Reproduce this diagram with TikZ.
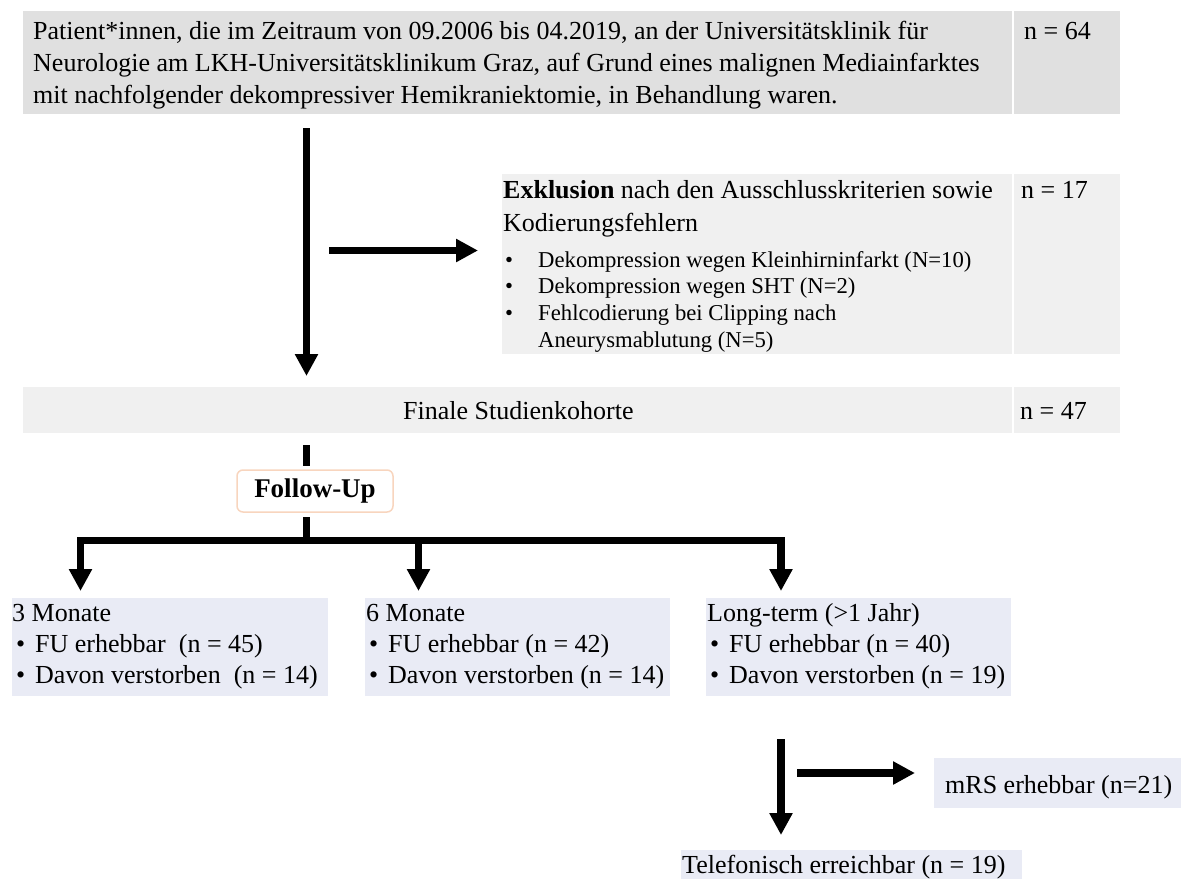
\documentclass[tikz,border=0pt]{standalone}
\usepackage{fontspec}
\setmainfont{Liberation Serif}
\usetikzlibrary{arrows.meta}
\definecolor{boxgray}{HTML}{E0E0E0}
\definecolor{boxlight}{HTML}{F0F0F0}
\definecolor{boxlav}{HTML}{E9EBF5}
\definecolor{peach}{HTML}{F8D5BE}
\begin{document}
\begin{tikzpicture}[x=1pt,y=-1pt,
  cell/.style={draw=none, inner sep=0pt, outer sep=0pt, anchor=north west},
  txt/.style={inner sep=0pt, anchor=base west, font=\fontsize{26}{31}\selectfont},
  smalltxt/.style={inner sep=0pt, anchor=base west, font=\fontsize{22.7}{27}\selectfont},
  bigarrow/.style={line width=7.5pt, -{Triangle[width=22pt,length=22pt]}},
  barline/.style={line width=7.5pt}
]
\useasboundingbox (0,0) rectangle (1181,879);
% ---- boxes
\node[cell, fill=boxgray, minimum width=989pt, minimum height=103pt] (top) at (23,11) {};
\node[cell, fill=boxgray, minimum width=106pt, minimum height=103pt] (topn) at (1014,11) {};
\node[cell, fill=boxlight, minimum width=510pt, minimum height=180pt] (excl) at (502,174) {};
\node[cell, fill=boxlight, minimum width=106pt, minimum height=180pt] (excln) at (1014,174) {};
\node[cell, fill=boxlight, minimum width=989pt, minimum height=46pt] (final) at (23,387) {};
\node[cell, fill=boxlight, minimum width=106pt, minimum height=46pt] (finaln) at (1014,387) {};
\node[draw=peach, line width=1.5pt, fill=white, rounded corners=6pt, minimum width=156pt, minimum height=42pt, inner sep=0pt,
      font=\bfseries\fontsize{27}{31}\selectfont] (fu) at (315,491) {Follow-Up};
\node[cell, fill=boxlav, minimum width=316pt, minimum height=98pt] (r1) at (12,598) {};
\node[cell, fill=boxlav, minimum width=305pt, minimum height=98pt] (r2) at (365,598) {};
\node[cell, fill=boxlav, minimum width=305pt, minimum height=98pt] (r3) at (706,598) {};
\node[cell, fill=boxlav, minimum width=247pt, minimum height=50pt] (mrs) at (934,758) {};
\node[cell, fill=boxlav, minimum width=341pt, minimum height=29pt] (tel) at (681,850) {};
% ---- texts
\node[txt] (t1) at (33,39) {Patient*innen, die im Zeitraum von 09.2006 bis 04.2019, an der Universitätsklinik für};
\node[txt] (t2) at (33,71) {Neurologie am LKH-Universitätsklinikum Graz, auf Grund eines malignen Mediainfarktes};
\node[txt] (t3) at (33,103) {mit nachfolgender dekompressiver Hemikraniektomie, in Behandlung waren.};
\node[txt] (n64) at (1024,39) {n = 64};
\node[txt] (e1) at (503,198) {\textbf{Exklusion} nach den Ausschlusskriterien sowie};
\node[txt] (e2) at (503,231) {Kodierungsfehlern};
\node[txt] (n17) at (1021,198) {n = 17};
\node[smalltxt] (eb1) at (505,267) {•};
\node[smalltxt] (e3) at (538,267) {Dekompression wegen Kleinhirninfarkt (N=10)};
\node[smalltxt] (eb2) at (505,293) {•};
\node[smalltxt] (e4) at (538,293) {Dekompression wegen SHT (N=2)};
\node[smalltxt] (eb3) at (505,320) {•};
\node[smalltxt] (e5) at (538,320) {Fehlcodierung bei Clipping nach};
\node[smalltxt] (e6) at (538,347) {Aneurysmablutung (N=5)};
\node[txt] (fin) at (403,419) {Finale Studienkohorte};
\node[txt] (n47) at (1020,419) {n = 47};
% row 1
\node[txt] (r1a) at (12,621) {3 Monate};
\node[txt] (r1b) at (16,652) {•};
\node[txt] (r1c) at (35,652) {FU erhebbar\ \ (n = 45)};
\node[txt] (r1d) at (16,683) {•};
\node[txt] (r1e) at (35,683) {Davon verstorben\ \ (n = 14)};
% row 2
\node[txt] (r2a) at (366,621) {6 Monate};
\node[txt] (r2b) at (369,652) {•};
\node[txt] (r2c) at (388,652) {FU erhebbar (n = 42)};
\node[txt] (r2d) at (369,683) {•};
\node[txt] (r2e) at (388,683) {Davon verstorben (n = 14)};
% row 3
\node[txt] (r3a) at (707,621) {Long-term (>1 Jahr)};
\node[txt] (r3b) at (710,652) {•};
\node[txt] (r3c) at (729,652) {FU erhebbar (n = 40)};
\node[txt] (r3d) at (710,683) {•};
\node[txt] (r3e) at (729,683) {Davon verstorben (n = 19)};
\node[txt] (mrst) at (945,793) {mRS erhebbar (n=21)};
\node[txt] (telt) at (682,873) {Telefonisch erreichbar (n = 19)};
% ---- connector end points
\coordinate (a1s) at (306.5,128);
\coordinate (a1e) at (306.5,376);
\coordinate (a2s) at (329,250.5);
\coordinate (a2e) at (478,250.5);
\coordinate (s1s) at (306.5,445);
\coordinate (s1e) at (306.5,466);
\coordinate (s2s) at (306.5,517);
\coordinate (s2e) at (306.5,537);
\coordinate (barl) at (77,540.5);
\coordinate (barr) at (785,540.5);
\coordinate (b1s) at (80.5,537);
\coordinate (b1e) at (80.5,591);
\coordinate (b2s) at (418.5,537);
\coordinate (b2e) at (418.5,591);
\coordinate (b3s) at (781,537);
\coordinate (b3e) at (781,591);
\coordinate (c1s) at (781,739);
\coordinate (c1e) at (781,835);
\coordinate (c2s) at (797,773);
\coordinate (c2e) at (915,773);
% ---- connectors
\draw[bigarrow] (a1s) -- (a1e);
\draw[bigarrow] (a2s) -- (a2e);
\draw[barline] (s1s) -- (s1e);
\draw[barline] (s2s) -- (s2e);
\draw[barline] (barl) -- (barr);
\draw[bigarrow] (b1s) -- (b1e);
\draw[bigarrow] (b2s) -- (b2e);
\draw[bigarrow] (b3s) -- (b3e);
\draw[bigarrow] (c1s) -- (c1e);
\draw[bigarrow] (c2s) -- (c2e);
\end{tikzpicture}
\end{document}
